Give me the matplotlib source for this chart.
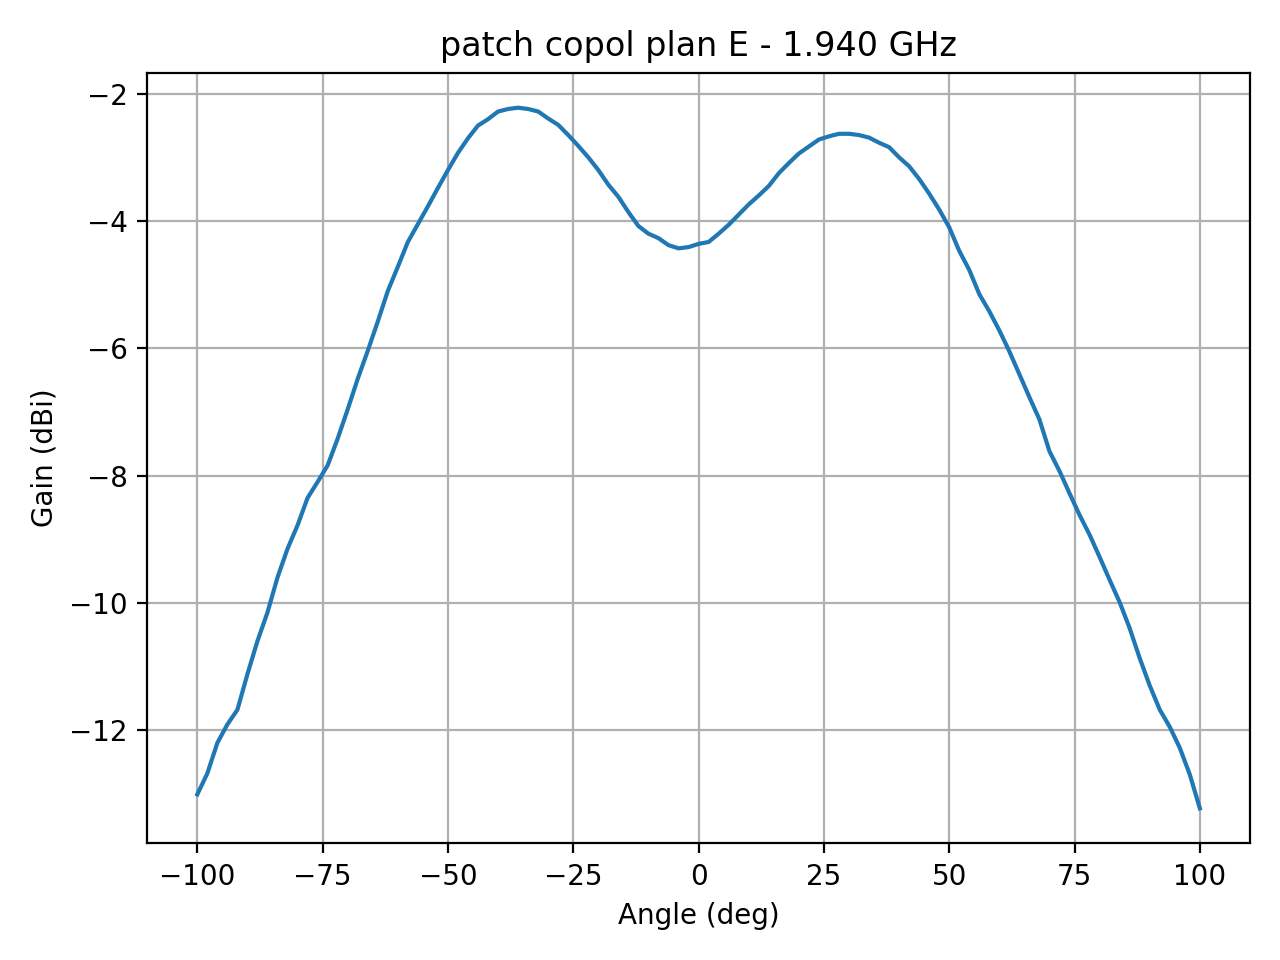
import numpy as np
import matplotlib
matplotlib.use("Agg")
import matplotlib.pyplot as plt

# E-plane copol pattern of the patch, read every 2 deg
angle_deg = np.arange(-100, 101, 2)
gain_dbi = [
    -13.01, -12.68, -12.20, -11.91, -11.68, -11.12, -10.60, -10.15, -9.60, -9.15,
    -8.78, -8.35, -8.10, -7.84, -7.42, -6.96, -6.48, -6.04, -5.58, -5.10,
    -4.72, -4.33, -4.05, -3.77, -3.48, -3.20, -2.93, -2.70, -2.50, -2.40,
    -2.28, -2.24, -2.22, -2.24, -2.28, -2.39, -2.49, -2.65, -2.82, -3.00,
    -3.20, -3.43, -3.62, -3.86, -4.08, -4.20, -4.27, -4.38, -4.43, -4.41,
    -4.36, -4.33, -4.20, -4.06, -3.90, -3.74, -3.60, -3.45, -3.25, -3.09,
    -2.94, -2.83, -2.72, -2.67, -2.63, -2.63, -2.65, -2.69, -2.77, -2.84,
    -3.00, -3.14, -3.34, -3.57, -3.82, -4.10, -4.47, -4.77, -5.15, -5.42,
    -5.72, -6.05, -6.41, -6.77, -7.12, -7.62, -7.93, -8.28, -8.62, -8.93,
    -9.28, -9.64, -9.99, -10.40, -10.87, -11.30, -11.68, -11.95, -12.28, -12.70,
    -13.23,
]

fig, ax = plt.subplots(figsize=(6.4, 4.8), dpi=200)
ax.plot(angle_deg, gain_dbi)
ax.grid(True)
ax.set_xlabel("Angle (deg)")
ax.set_ylabel("Gain (dBi)")
ax.set_title("patch copol plan E - 1.940 GHz")
plt.tight_layout()
plt.savefig("out.png", dpi=200)
